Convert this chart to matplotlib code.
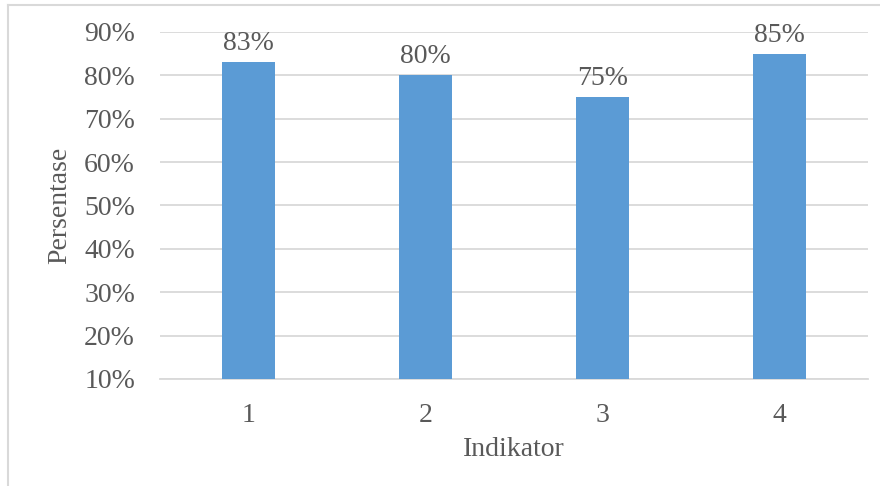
import numpy as np
import matplotlib.pyplot as plt
from matplotlib.lines import Line2D
from matplotlib.ticker import FuncFormatter

plt.rcParams['font.family'] = ['Liberation Serif', 'DejaVu Serif']

# data
indikator = ['1', '2', '3', '4']
persentase = [0.83, 0.80, 0.75, 0.85]
y_ticks = [0.1, 0.2, 0.3, 0.4, 0.5, 0.6, 0.7, 0.8, 0.9]

text_color = '#595959'
grid_color = '#D9D9D9'
bar_color = '#5B9BD5'

fig = plt.figure(figsize=(8.8, 4.86), dpi=100)
ax = fig.add_axes([160 / 880, 1 - 379 / 486, 708 / 880, 347 / 486])

x = np.arange(len(indikator))
bars = ax.bar(x, persentase, width=0.305, color=bar_color, zorder=3)

for xi, v in zip(x, persentase):
    ax.text(xi, v + 0.014, f"{v:.0%}", ha='center', va='bottom',
            fontsize=20, color=text_color, zorder=4)

ax.set_ylim(0.1, 0.9)
ax.set_xlim(-0.5, len(indikator) - 0.5)
ax.set_yticks(y_ticks)
ax.yaxis.set_major_formatter(FuncFormatter(lambda v, _: f"{v:.0%}"))
ax.set_xticks(x)
ax.set_xticklabels(indikator)
ax.tick_params(axis='both', length=0, labelsize=20, colors=text_color)
ax.tick_params(axis='y', pad=18)
ax.tick_params(axis='x', pad=17)

ax.grid(axis='y', color=grid_color, linewidth=1.3, zorder=0)
for side in ['top', 'right', 'left']:
    ax.spines[side].set_visible(False)
ax.spines['bottom'].set_color(grid_color)
ax.spines['bottom'].set_linewidth(1.3)

ax.set_xlabel('Indikator', fontsize=20, color=text_color, labelpad=7)
ax.set_ylabel('Persentase', fontsize=20, color=text_color)
ax.yaxis.set_label_coords(-0.124, 0.5)

# outer chart border
fig.add_artist(Line2D([8 / 880, 8 / 880], [0, 1 - 5 / 486],
                      transform=fig.transFigure, color=grid_color, lw=1.5))
fig.add_artist(Line2D([8 / 880, 1], [1 - 5 / 486, 1 - 5 / 486],
                      transform=fig.transFigure, color=grid_color, lw=1.5))

fig.savefig('out.png', dpi=100)
